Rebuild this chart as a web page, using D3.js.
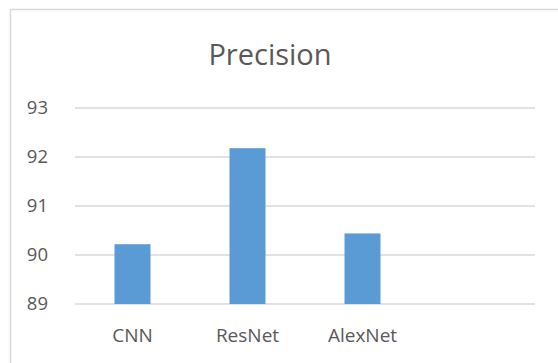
<!DOCTYPE html>
<html>
<head>
<meta charset="UTF-8">
<script src="https://d3js.org/d3.v7.min.js"></script>
<style>
  body { margin: 0; background: #fff; }
  text { font-family: "Open Sans", sans-serif; fill: #595959; }
</style>
</head>
<body>
<svg id="chart" width="558" height="363"></svg>
<script>
  // data
  const categories = ["CNN", "ResNet", "AlexNet", ""];
  const precision = [90.22, 92.18, 90.44, null];
  const yTicks = [89, 90, 91, 92, 93];
  const title = "Precision";

  const W = 558, H = 363;
  const margin = { left: 75, right: 23, top: 108, bottom: 59 };

  const svg = d3.select("#chart");

  // chart border (only left/top visible in frame)
  svg.append("rect")
    .attr("x", 10.5).attr("y", 9.5)
    .attr("width", W + 20).attr("height", H + 20)
    .attr("fill", "#fff")
    .attr("stroke", "#d9d9d9")
    .attr("stroke-width", 1.5);

  const x = d3.scaleBand()
    .domain(categories.map((d, i) => i))
    .range([margin.left, W - margin.right])
    .paddingInner(0.687)
    .paddingOuter(0.3435);

  const y = d3.scaleLinear()
    .domain([89, 93])
    .range([H - margin.bottom, margin.top]);

  // gridlines
  svg.append("g")
    .selectAll("line")
    .data(yTicks)
    .join("line")
    .attr("x1", margin.left).attr("x2", W - margin.right)
    .attr("y1", d => y(d)).attr("y2", d => y(d))
    .attr("stroke", "#d9d9d9")
    .attr("stroke-width", 1.3);

  // y labels
  svg.append("g")
    .selectAll("text")
    .data(yTicks)
    .join("text")
    .attr("x", 48)
    .attr("y", d => y(d))
    .attr("dy", "0.35em")
    .attr("text-anchor", "end")
    .style("font-size", "18.5px")
    .text(d => d);

  // bars
  svg.append("g")
    .selectAll("rect")
    .data(precision.map((v, i) => ({ v, i })).filter(d => d.v != null))
    .join("rect")
    .attr("x", d => x(d.i))
    .attr("width", x.bandwidth())
    .attr("y", d => y(d.v))
    .attr("height", d => y(89) - y(d.v))
    .attr("fill", "#5b9bd5");

  // x labels
  svg.append("g")
    .selectAll("text")
    .data(categories)
    .join("text")
    .attr("x", (d, i) => x(i) + x.bandwidth() / 2)
    .attr("y", 342)
    .attr("text-anchor", "middle")
    .style("font-size", "19px")
    .text(d => d);

  // title
  svg.append("text")
    .attr("x", 270)
    .attr("y", 65)
    .attr("text-anchor", "middle")
    .style("font-size", "29px")
    .text(title);
</script>
</body>
</html>
